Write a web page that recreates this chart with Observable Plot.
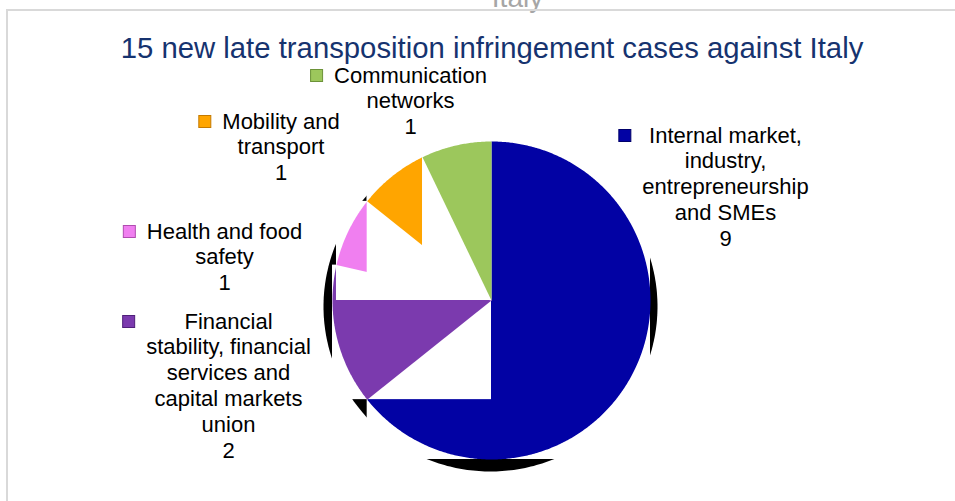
<!DOCTYPE html>
<html>
<head>
<meta charset="utf-8">
<script src="https://cdn.jsdelivr.net/npm/d3@7"></script>
<script src="https://cdn.jsdelivr.net/npm/@observablehq/plot@0.6"></script>
<style>
  html, body { margin: 0; padding: 0; background: #fff; }
  #wrap { position: relative; width: 955px; height: 501px; overflow: hidden; }
  #chart { position: absolute; left: 0; top: 0; }
  #frame { position: absolute; left: 6px; top: 9px; width: 980px; height: 520px;
           border-left: 2px solid #d9d9d9; border-top: 2px solid #d9d9d9; pointer-events: none; }
</style>
</head>
<body>
<div id="wrap"><div id="chart"></div><div id="frame"></div></div>
<script>
// ---- data ----
const title = "15 new late transposition infringement cases against Italy";
const clippedHeading = "Italy";
const categories = [
  "Internal market,\nindustry,\nentrepreneurship\nand SMEs",
  "Financial\nstability, financial\nservices and\ncapital markets\nunion",
  "Health and food\nsafety",
  "Mobility and\ntransport",
  "Communication\nnetworks"
];
const counts = [9, 2, 1, 1, 1];

// ---- style / layout ----
const sliceColors = ["#0202a4", "#7b3aae", "#f07ff0", "#ffa500", "#9cc75c"];
const markerStroke = ["#00006a", "#4f1f7a", "#b04cb0", "#c47a00", "#6c9238"];
const labelAnchors = [[725, 142], [228, 328], [224, 238], [280.5, 128], [410, 82]]; // centre x, first baseline
const W = 955, H = 501;
const pie = {cx: 491, cy: 300, r: 159};
const shadow = {dx: -1, dy: 6, ex: 8, ey: 6};
const font = '"Liberation Sans", Arial, Helvetica, sans-serif';
const labelSize = 22, lineStep = 26;
const titleSize = 29.3, titleColor = "#16336f";

// ---- geometry from data ----
const arcs = d3.pie().sort(null).startAngle(0).endAngle(2 * Math.PI)(counts);
const pt = (a, rad) => ({x: pie.cx + rad * Math.sin(a), y: pie.cy - rad * Math.cos(a)});
const wedges = arcs.map((a, i) => {
  const n = Math.max(2, Math.ceil((a.endAngle - a.startAngle) / (Math.PI / 360)));
  const pts = [{x: pie.cx, y: pie.cy}];
  for (let k = 0; k <= n; k++) pts.push(pt(a.startAngle + (a.endAngle - a.startAngle) * k / n, pie.r));
  const xs = pts.map(p => p.x), ys = pts.map(p => p.y);
  return {i, pts, box: {x1: d3.min(xs), x2: d3.max(xs), y1: d3.min(ys), y2: d3.max(ys)}};
});
const shadowPts = d3.range(0, 361, 1).map(d => {
  const a = d * Math.PI / 180;
  return {x: pie.cx + shadow.dx + (pie.r + shadow.ex) * Math.sin(a),
          y: pie.cy + shadow.dy - (pie.r + shadow.ey) * Math.cos(a)};
});

// labels
const ctx = document.createElement("canvas").getContext("2d");
ctx.font = `${labelSize}px ${font}`;
const labels = categories.map((c, i) => {
  const text = c + "\n" + counts[i];
  const w = d3.max(text.split("\n"), s => ctx.measureText(s).width);
  const [x, base] = labelAnchors[i];
  return {text, x, y: base - 0.71 * lineStep, mx: x - w / 2 - 17, my: base - 6.5, i};
});

const marks = [];
marks.push(Plot.text([clippedHeading], {x: () => 517, y: () => 6, text: d => d, lineAnchor: "bottom",
  textAnchor: "middle", fontSize: 28, fill: "#a6a6a6", fontFamily: font}));
marks.push(Plot.text([title], {x: () => 491.5, y: () => 57, text: d => d, lineAnchor: "bottom",
  textAnchor: "middle", fontSize: titleSize, fill: titleColor, fontFamily: font}));
marks.push(Plot.line(shadowPts, {x: "x", y: "y", fill: "#000", stroke: "none"}));
for (const w of wedges) {
  marks.push(Plot.rect([w.box], {x1: "x1", x2: "x2", y1: "y1", y2: "y2", fill: "#fff"}));
  marks.push(Plot.line(w.pts, {x: "x", y: "y", fill: sliceColors[w.i], stroke: "none"}));
}
marks.push(Plot.text(labels, {x: "x", y: "y", text: "text", lineAnchor: "top", textAnchor: "middle",
  fontSize: labelSize, lineHeight: lineStep / labelSize, fill: "#000", fontFamily: font}));
marks.push(Plot.rect(labels, {x1: d => d.mx - 6, x2: d => d.mx + 6, y1: d => d.my - 6, y2: d => d.my + 6,
  fill: d => sliceColors[d.i], stroke: d => markerStroke[d.i], strokeWidth: 1}));

const svg = Plot.plot({
  width: W, height: H, margin: 0,
  x: {domain: [0, W], range: [0, W], axis: null},
  y: {domain: [0, H], range: [0, H], axis: null},
  color: {type: "identity"},
  style: {background: "transparent", fontFamily: font},
  marks
});
document.getElementById("chart").appendChild(svg);
</script>
</body>
</html>
